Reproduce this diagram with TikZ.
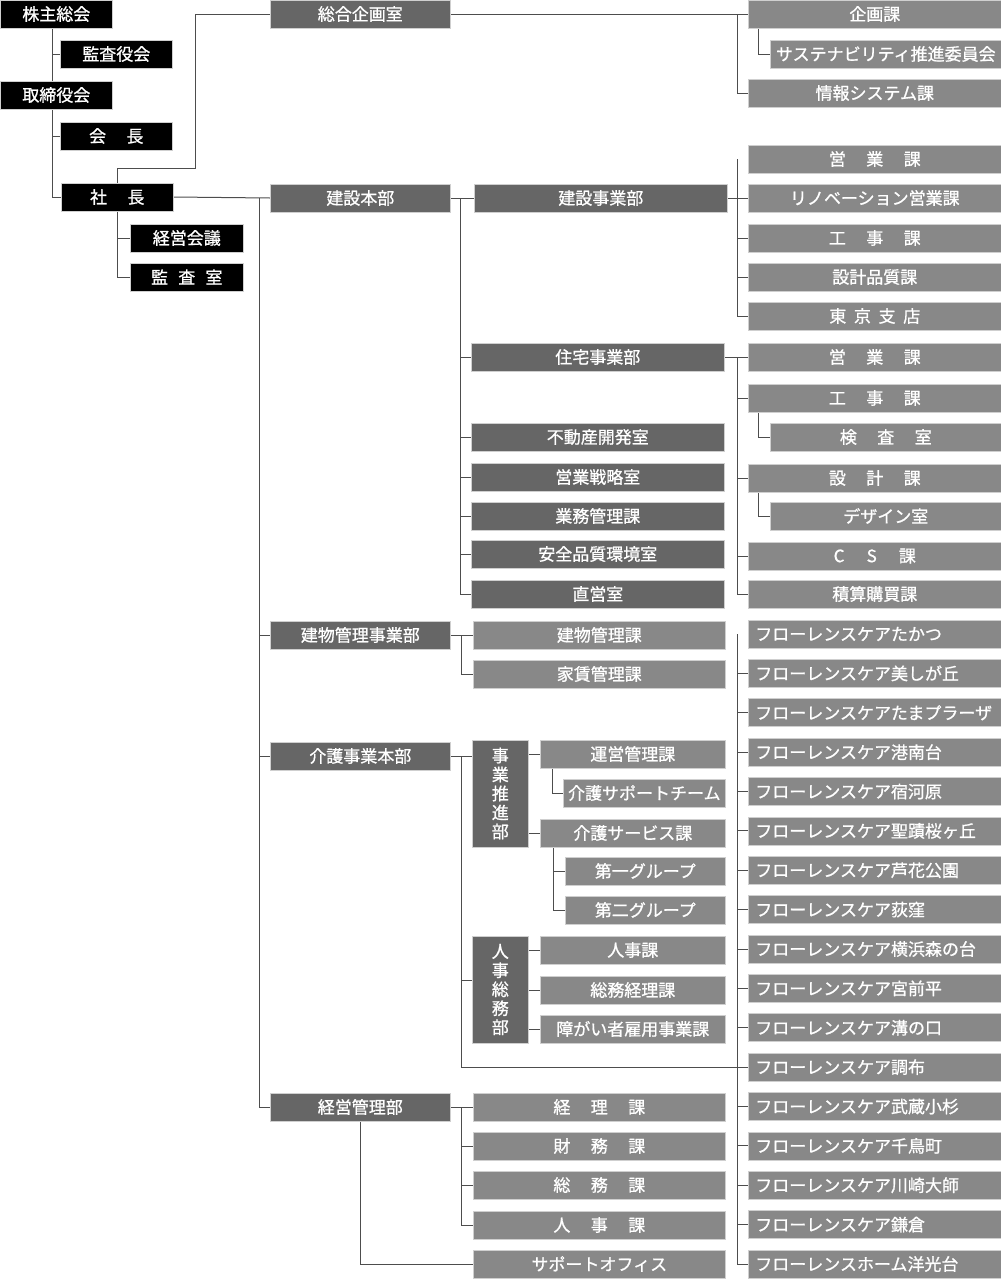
\documentclass[tikz,border=0pt]{standalone}
\usepackage{fontspec}
\newfontfamily\jpfont[RawFeature={embolden=0.9}]{Noto Sans CJK JP}
\usetikzlibrary{backgrounds}
\definecolor{boxBlack}{HTML}{000000}
\definecolor{boxDark}{HTML}{666666}
\definecolor{boxMid}{HTML}{888888}
\definecolor{boxEdge}{HTML}{CFCFCF}
\definecolor{lineGray}{HTML}{4D4D4D}
\newcommand\gapx[1]{\hspace{#1em}}

\begin{document}
\begin{tikzpicture}
[x=1pt,y=-1pt,
  every node/.style={anchor=west,minimum height=28pt,inner sep=0pt,text=white,
    draw=boxEdge,line width=0.6pt,font=\jpfont\fontsize{17}{19}\selectfont},
  blackBox/.style={fill=boxBlack,minimum width=112pt},
  darkBox/.style={fill=boxDark},
  midBox/.style={fill=boxMid},
  colC/.style={darkBox,minimum width=180pt},
  colD/.style={minimum width=253pt},
  colE/.style={midBox,minimum width=253pt},
  subE/.style={midBox,minimum width=231pt},
  vertBox/.style={darkBox,minimum width=56pt,minimum height=107pt,align=center},
  flBox/.style={midBox,text width=239pt,inner xsep=7pt,align=left},
  lineDecorate/.style={draw=lineGray,line width=1pt}]
\useasboundingbox (0,0) rectangle (1001,1280);

% top management
\node[blackBox] (kabunushi) at (0,14) {株主総会};
\node[blackBox] (kansayaku) at (60,54) {監査役会};
\node[blackBox] (torishimari) at (0,95) {取締役会};
\node[blackBox] (kaicho) at (60,136) {会\gapx{1.2}長};
\node[blackBox] (shacho) at (61,197) {社\gapx{1.2}長};
\node[blackBox,minimum width=113pt] (keiei) at (130,238) {経営会議};
\node[blackBox,minimum width=113pt] (kansashitsu) at (130,277) {監\gapx{0.6}査\gapx{0.6}室};

% headquarters
\node[colC] (sogo) at (270,14) {総合企画室};
\node[colC] (kensetsuHQ) at (270,198) {建設本部};
\node[colC] (tatemono) at (270,635) {建物管理事業部};
\node[colC] (kaigoHQ) at (270,756) {介護事業本部};
\node[colC] (keieiKanri) at (270,1107) {経営管理部};

% divisions
\node[darkBox,colD] (kensetsuJ) at (474,198) {建設事業部};
\node[darkBox,colD] (jutaku) at (471,357) {住宅事業部};
\node[darkBox,colD] (fudosan) at (471,437) {不動産開発室};
\node[darkBox,colD] (eigyoSen) at (471,477) {営業戦略室};
\node[darkBox,colD] (gyomu) at (471,516) {業務管理課};
\node[darkBox,colD] (anzen) at (471,554) {安全品質環境室};
\node[darkBox,colD] (chokuei) at (471,594) {直営室};
\node[midBox,colD,minimum width=252pt] (tatemonoK) at (473,635) {建物管理課};
\node[midBox,colD,minimum width=252pt] (yachin) at (473,674) {家賃管理課};
\node[midBox,colD,minimum width=252pt] (keiri) at (473,1107) {経\gapx{1.2}理\gapx{1.2}課};
\node[midBox,colD,minimum width=252pt] (zaimu) at (473,1146) {財\gapx{1.2}務\gapx{1.2}課};
\node[midBox,colD,minimum width=252pt] (somu) at (473,1185) {総\gapx{1.2}務\gapx{1.2}課};
\node[midBox,colD,minimum width=252pt] (jinji) at (473,1225) {人\gapx{1.2}事\gapx{1.2}課};
\node[midBox,colD,minimum width=252pt] (support) at (473,1264) {サポートオフィス};

% care division
\node[vertBox] (suishin) at (472,793.5) {事\\業\\推\\進\\部};
\node[vertBox] (jinjiSomu) at (472,989.5) {人\\事\\総\\務\\部};
\node[midBox,minimum width=185pt] (unei) at (540,754) {運営管理課};
\node[midBox,minimum width=162pt] (kaigoSupport) at (563,793) {介護サポートチーム};
\node[midBox,minimum width=185pt] (kaigoService) at (540,833) {介護サービス課};
\node[midBox,minimum width=160pt] (group1) at (565,871) {第一グループ};
\node[midBox,minimum width=160pt] (group2) at (565,910) {第二グループ};
\node[midBox,minimum width=185pt] (jinjika) at (540,950) {人事課};
\node[midBox,minimum width=185pt] (somukeiri) at (540,990) {総務経理課};
\node[midBox,minimum width=185pt] (shogai) at (540,1029) {障がい者雇用事業課};

% sections
\node[colE] (kikaku) at (748,14) {企画課};
\node[subE] (sustain) at (770,54) {サステナビリティ推進委員会};
\node[colE] (joho) at (748,93) {情報システム課};
\node[colE] (eigyo1) at (748,159) {営\gapx{1.2}業\gapx{1.2}課};
\node[colE] (renov) at (748,198) {リノベーション営業課};
\node[colE] (koji1) at (748,238) {工\gapx{1.2}事\gapx{1.2}課};
\node[colE] (sekkei1) at (748,277) {設計品質課};
\node[colE] (tokyo) at (748,316) {東\gapx{0.45}京\gapx{0.45}支\gapx{0.45}店};
\node[colE] (eigyo2) at (748,357) {営\gapx{1.2}業\gapx{1.2}課};
\node[colE] (koji2) at (748,398) {工\gapx{1.2}事\gapx{1.2}課};
\node[subE] (kensa) at (770,437) {検\gapx{1.2}査\gapx{1.2}室};
\node[colE] (sekkei2) at (748,478) {設\gapx{1.2}計\gapx{1.2}課};
\node[subE] (design) at (770,516) {デザイン室};
\node[colE] (cs) at (748,556) {C\gapx{1.3}S\gapx{1.3}課};
\node[colE] (sekisan) at (748,594) {積算購買課};

% care homes
\foreach \flName [count=\i from 0] in {フローレンスケアたかつ,フローレンスケア美しが丘,
  フローレンスケアたまプラーザ,フローレンスケア港南台,フローレンスケア宿河原,
  フローレンスケア聖蹟桜ヶ丘,フローレンスケア芦花公園,フローレンスケア荻窪,
  フローレンスケア横浜森の台,フローレンスケア宮前平,フローレンスケア溝の口,
  フローレンスケア調布,フローレンスケア武蔵小杉,フローレンスケア千鳥町,
  フローレンスケア川崎大師,フローレンスケア鎌倉,フローレンスホーム洋光台}
  \node[flBox] (fl\i) at (748,{634+39.375*\i}) {\flName};

\coordinate (jog) at (195,168);
\coordinate (aTrunk) at ([xshift=-4pt]kabunushi.south);
\coordinate (kTrunk) at ([xshift=10pt]kensetsuHQ.east);
\coordinate (kaigoTrunk) at ([xshift=11pt]kaigoHQ.east);
\coordinate (flTrunk) at ([xshift=-11pt]fl0.west);

\begin{pgfonlayer}{background}
\path[lineDecorate]
  (kansayaku.west) edge (kansayaku.west -| aTrunk)
  (kaicho.west) edge (kaicho.west -| aTrunk)
  (keiei.west) edge (keiei.west -| shacho.south)
  (shacho.east) edge (kensetsuHQ.west)
  (sogo.east) edge (kikaku.west)
  (kensetsuHQ.east) edge (kensetsuJ.west)
  (kensetsuJ.east) edge (renov.west)
  (jutaku.east) edge (eigyo2.west)
  (tatemono.east) edge (tatemonoK.west)
  (keieiKanri.east) edge (keiri.west)
  (kaigoHQ.east) edge (kaigoHQ.east -| suishin.west);
\draw[lineDecorate] (aTrunk) |- (shacho.west);
\draw[lineDecorate] (shacho.north) |- (jog) |- (sogo.west);
\draw[lineDecorate] (shacho.south) |- (kansashitsu.west);
% planning office
\draw[lineDecorate] ([xshift=-11pt]kikaku.west) |- (joho.west);
\draw[lineDecorate] ([xshift=10pt]kikaku.south west) |- (sustain.west);
% main trunk
\draw[lineDecorate] ([xshift=-11pt]kensetsuHQ.west) |- (keieiKanri.west);
\foreach \nodeName in {tatemono,kaigoHQ}
  \draw[lineDecorate] (\nodeName.west) -- ++(-11,0);
% construction
\draw[lineDecorate] (kTrunk) |- (chokuei.west);
\foreach \nodeName in {jutaku,fudosan,eigyoSen,gyomu,anzen}
  \draw[lineDecorate] (\nodeName.west) -- (\nodeName.west -| kTrunk);
\draw[lineDecorate] ([xshift=-11pt]eigyo1.west) |- (tokyo.west);
\foreach \nodeName in {koji1,sekkei1}
  \draw[lineDecorate] (\nodeName.west) -- ++(-11,0);
\draw[lineDecorate] ([xshift=-11pt]eigyo2.west) |- (sekisan.west);
\foreach \nodeName in {koji2,sekkei2,cs}
  \draw[lineDecorate] (\nodeName.west) -- ++(-11,0);
\draw[lineDecorate] ([xshift=10pt]koji2.south west) |- (kensa.west);
\draw[lineDecorate] ([xshift=10pt]sekkei2.south west) |- (design.west);
% building management
\draw[lineDecorate] ([xshift=11pt]tatemono.east) |- (yachin.west);
% care
\draw[lineDecorate] (kaigoTrunk) |- (fl11.west);
\draw[lineDecorate] ([yshift=9.5pt]jinjiSomu.west) -- ++(-11,0);
\draw[lineDecorate] (flTrunk) |- (fl16.west);
\foreach \i in {1,...,15}
  \draw[lineDecorate] (fl\i.west) -- ++(-11,0);
\foreach \nodeName in {unei,kaigoService}
  \draw[lineDecorate] (\nodeName.west) -- (\nodeName.west -| suishin.east);
\foreach \nodeName in {jinjika,somukeiri,shogai}
  \draw[lineDecorate] (\nodeName.west) -- (\nodeName.west -| jinjiSomu.east);
\draw[lineDecorate] ([xshift=12pt]unei.south west) |- (kaigoSupport.west);
\draw[lineDecorate] ([xshift=13pt]kaigoService.south west) |- (group2.west);
\draw[lineDecorate] (group1.west) -- ++(-12,0);
% administration
\draw[lineDecorate] ([xshift=11pt]keieiKanri.east) |- (jinji.west);
\foreach \nodeName in {zaimu,somu}
  \draw[lineDecorate] (\nodeName.west) -- ++(-12,0);
\draw[lineDecorate] (keieiKanri.south) |- (support.west);
\end{pgfonlayer}
\end{tikzpicture}
\end{document}
